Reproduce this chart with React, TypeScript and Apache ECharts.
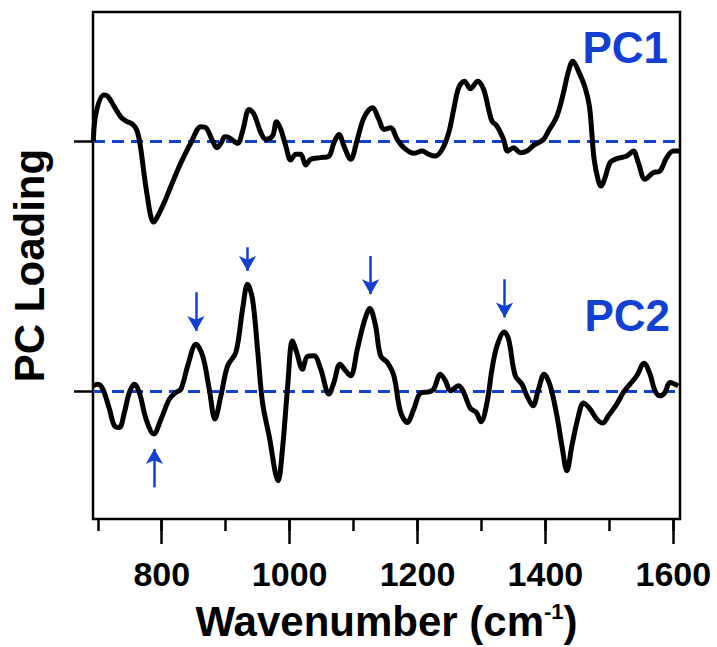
import React, { useEffect, useRef } from "react";
import * as echarts from "echarts";

// PC1 loading (before vertical offset), wavenumber in cm^-1
const pc1Wave = [693, 697.5, 709.5, 715.7, 725.6, 736.5, 744.3, 754.7, 761.5, 766.6, 772.8, 778.2, 783.3, 787.5, 793.8, 804.1, 814.5, 830.1, 845.7, 861.3, 869.1, 879.6, 886.3, 892.5, 898.8, 905.5, 918.6, 926.4, 936.7, 944.5, 955, 962.8, 973.2, 979.5, 986.2, 994, 1001.8, 1009.6, 1017.4, 1025.2, 1033, 1048.6, 1061.5, 1069.3, 1077.1, 1085, 1095.4, 1105.9, 1116.2, 1129.3, 1139.6, 1147.4, 1157.8, 1168.3, 1178.6, 1194.2, 1207.3, 1217.6, 1228, 1238.5, 1248.8, 1256.6, 1264.4, 1273.3, 1282.7, 1294.1, 1303.4, 1311.2, 1316.5, 1324.3, 1334.6, 1340.9, 1350.2, 1360.7, 1371.1, 1381.4, 1397, 1404.8, 1418, 1428.3, 1436.1, 1442.9, 1451.7, 1462.1, 1468.8, 1472.6, 1476.2, 1482.9, 1487.1, 1493.3, 1501.1, 1511.6, 1527.2, 1537.5, 1545.3, 1555.8, 1568.7, 1579.2, 1589.6, 1599.9, 1609.3];
const pc1Values = [0, 0.287, 0.46, 0.447, 0.347, 0.237, 0.2, 0.167, 0.1, -0.05, -0.35, -0.583, -0.763, -0.81, -0.75, -0.613, -0.45, -0.216, -0.016, 0.144, 0.134, 0, -0.066, -0.023, 0.044, 0.034, -0.023, 0.1, 0.317, 0.267, 0.084, 0.017, 0.05, 0.194, 0.117, -0.05, -0.19, -0.133, -0.133, -0.24, -0.183, -0.166, -0.15, -0.016, 0.067, -0.05, -0.183, 0.017, 0.234, 0.334, 0.217, 0.117, 0.134, 0.017, -0.066, -0.123, -0.1, -0.133, -0.15, -0.083, 0.084, 0.317, 0.534, 0.6, 0.524, 0.6, 0.517, 0.317, 0.2, 0.15, 0.017, -0.1, -0.066, -0.116, -0.1, -0.043, 0.017, 0.1, 0.25, 0.484, 0.7, 0.8, 0.7, 0.534, 0.35, 0.084, -0.183, -0.4, -0.45, -0.366, -0.216, -0.176, -0.15, -0.1, -0.216, -0.383, -0.316, -0.3, -0.166, -0.1, -0.1];

// PC2 loading
const pc2Wave = [692.8, 700.1, 707.9, 718.2, 726, 733.8, 741.6, 749.4, 757.2, 765, 775.5, 787.5, 798.9, 811.9, 822.3, 830.1, 840.6, 853.5, 864, 874.3, 883.2, 892.5, 903, 915.9, 926.4, 934.2, 942, 949.8, 957.6, 967.9, 982, 988.8, 996.6, 1004.4, 1011.1, 1020, 1027.8, 1038.1, 1048.6, 1061.5, 1069.3, 1078.7, 1087.6, 1095.4, 1105.9, 1116.2, 1125.5, 1134.4, 1142.2, 1152.7, 1163, 1173.4, 1183.9, 1194.2, 1204.6, 1217.6, 1225.4, 1235.8, 1243.7, 1251.5, 1264.4, 1272.2, 1282.7, 1292, 1299.4, 1308.7, 1316.5, 1324.3, 1335.7, 1342.4, 1352.9, 1363.3, 1371.1, 1380.5, 1389.2, 1398.1, 1407.5, 1418, 1425.8, 1433.6, 1441.4, 1451.7, 1459.5, 1469.9, 1480.4, 1489.7, 1498.5, 1511.6, 1521.9, 1532.3, 1542.8, 1554.2, 1563.6, 1571.4, 1579.2, 1587, 1594.8, 1607.7];
const pc2Values = [0.05, 0.067, 0.017, -0.183, -0.35, -0.366, -0.216, -0.016, 0.067, -0.016, -0.283, -0.433, -0.283, -0.083, -0.016, 0.017, 0.25, 0.467, 0.35, 0.017, -0.283, -0.05, 0.25, 0.384, 0.817, 1.067, 0.917, 0.417, -0.116, -0.45, -0.9, -0.583, 0.017, 0.5, 0.384, 0.217, 0.344, 0.35, 0.217, -0.033, 0.084, 0.267, 0.2, 0.15, 0.417, 0.684, 0.824, 0.65, 0.35, 0.284, 0.15, -0.21, -0.316, -0.183, -0.023, -0.01, 0.017, 0.167, 0.1, 0, 0.05, -0.016, -0.176, -0.216, -0.31, -0.116, 0.217, 0.45, 0.59, 0.517, 0.15, 0.067, -0.05, -0.15, 0.017, 0.167, 0.05, -0.25, -0.55, -0.8, -0.55, -0.25, -0.123, -0.183, -0.283, -0.323, -0.25, -0.133, -0.016, 0.067, 0.15, 0.277, 0.167, 0, -0.05, -0.016, 0.084, 0.05];

const pc1Offset = 2.5;

// Marker arrows on PC2: [wavenumber, start, tip]
const downArrowWave = [853.5, 934.2, 1126.6, 1336.2];
const downArrowStart = [0.987, 1.437, 1.35, 1.117];
const downArrowEnd = [0.6, 1.2, 0.967, 0.734];
const upArrowWave = [788.5];
const upArrowStart = [-0.966];
const upArrowEnd = [-0.583];

const minorTicks = [700, 800, 900, 1000, 1100, 1200, 1300, 1400, 1500, 1600];
const majorTicks = [800, 1000, 1200, 1400, 1600];
const yTicks = [0, 2.5];

const BLUE = "#1240d2";
const FONT = "'Liberation Sans', Arial, sans-serif";

export default function App() {
  const ref = useRef<HTMLDivElement>(null);
  useEffect(() => {
    if (!ref.current) return;
    const chart = echarts.init(ref.current, null, { renderer: "svg" });
    const xMin = 692.5;
    const xMax = 1610.5;
    const arrows: any[] = [];
    downArrowWave.forEach((w, i) => {
      arrows.push([{ coord: [w, downArrowStart[i]] }, { coord: [w, downArrowEnd[i]] }]);
    });
    upArrowWave.forEach((w, i) => {
      arrows.push([{ coord: [w, upArrowStart[i]] }, { coord: [w, upArrowEnd[i]] }]);
    });
    chart.setOption({
      animation: false,
      grid: {
        left: 92,
        right: 37,
        top: 12,
        bottom: 127,
        show: true,
        borderColor: "#000",
        borderWidth: 2.5,
        backgroundColor: "transparent",
      },
      xAxis: [
        {
          type: "value",
          min: xMin,
          max: xMax,
          position: "bottom",
          axisLine: { show: false, onZero: false },
          axisTick: { show: true, customValues: minorTicks, length: 12, inside: false, lineStyle: { color: "#000", width: 2.5 } },
          axisLabel: { show: false },
          splitLine: { show: false },
        },
        {
          type: "value",
          min: xMin,
          max: xMax,
          position: "bottom",
          axisLine: { show: false, onZero: false },
          axisTick: { show: true, customValues: majorTicks, length: 25, inside: false, lineStyle: { color: "#000", width: 2.5 } },
          axisLabel: {
            show: true,
            customValues: majorTicks,
            formatter: (v: number) => String(v),
            margin: 38,
            fontSize: 34,
            fontWeight: "bold",
            fontFamily: FONT,
            color: "#000",
          },
          splitLine: { show: false },
          name: "Wavenumber (cm{sup|-1})",
          nameLocation: "middle",
          nameGap: 81,
          nameTextStyle: {
            fontSize: 42,
            fontWeight: "bold",
            fontFamily: FONT,
            color: "#000",
            rich: {
              sup: { fontSize: 22, fontWeight: "bold", fontFamily: FONT, color: "#000", verticalAlign: "top" },
            },
          },
        },
      ],
      yAxis: {
        type: "value",
        min: -1.283,
        max: 3.792,
        axisLine: { show: false, onZero: false },
        axisTick: { show: true, customValues: yTicks, length: 19, inside: false, lineStyle: { color: "#000", width: 2.5 } },
        axisLabel: { show: false },
        splitLine: { show: false },
        name: "PC Loading",
        nameLocation: "middle",
        nameGap: 43,
        nameTextStyle: { fontSize: 42, fontWeight: "bold", fontFamily: FONT, color: "#000" },
      },
      graphic: [
        {
          type: "text",
          x: 668,
          y: 47,
          style: { text: "PC1", font: `bold 44px ${FONT}`, fill: BLUE, align: "right", verticalAlign: "middle" },
        },
        {
          type: "text",
          x: 670,
          y: 315,
          style: { text: "PC2", font: `bold 44px ${FONT}`, fill: BLUE, align: "right", verticalAlign: "middle" },
        },
      ],
      series: [
        {
          type: "line",
          name: "PC1",
          xAxisIndex: 0,
          data: pc1Wave.map((w, i) => [w, pc1Values[i] + pc1Offset]),
          smooth: 0.35,
          symbol: "none",
          lineStyle: { color: "#000", width: 5 },
          z: 5,
          markLine: {
            silent: true,
            symbol: "none",
            label: { show: false },
            lineStyle: { color: BLUE, type: [12, 7], width: 3 },
            data: [{ yAxis: pc1Offset }],
          },
        },
        {
          type: "line",
          name: "PC2",
          xAxisIndex: 0,
          data: pc2Wave.map((w, i) => [w, pc2Values[i]]),
          smooth: 0.35,
          symbol: "none",
          lineStyle: { color: "#000", width: 5 },
          z: 5,
          markLine: {
            silent: true,
            symbol: "none",
            label: { show: false },
            lineStyle: { color: BLUE, type: [12, 7], width: 3 },
            data: [{ yAxis: 0 }],
          },
        },
        {
          type: "line",
          name: "arrows",
          xAxisIndex: 0,
          data: [],
          markLine: {
            silent: true,
            symbol: ["none", "arrow"],
            symbolSize: [13, 15],
            label: { show: false },
            lineStyle: { color: BLUE, type: "solid", width: 2.5 },
            data: arrows,
          },
        },
      ],
    });
    return () => chart.dispose();
  }, []);
  return (
    <div
      ref={ref}
      style={{ position: "fixed", left: 0, top: 0, width: 717, height: 647, background: "#fff" }}
    />
  );
}
